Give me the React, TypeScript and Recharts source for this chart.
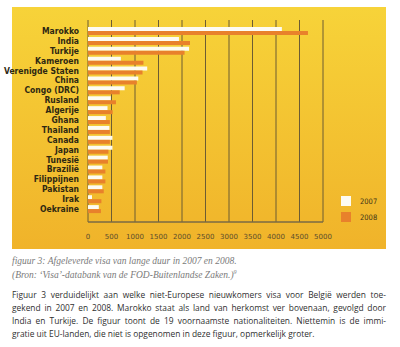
import { Bar, BarChart, CartesianGrid, XAxis, YAxis } from "recharts";

const landen = [
  "Marokko", "India", "Turkije", "Kameroen", "Verenigde Staten", "China", "Congo (DRC)",
  "Rusland", "Algerije", "Ghana", "Thailand", "Canada", "Japan", "Tunesië", "Brazilië",
  "Filippijnen", "Pakistan", "Irak", "Oekraine",
];
const visa2007 = [4125, 1935, 2150, 700, 1260, 1070, 780, 485, 415, 380, 455, 520, 520, 420, 305, 305, 305, 85, 230];
const visa2008 = [4680, 2170, 2055, 1180, 1160, 1040, 675, 595, 525, 465, 465, 465, 435, 425, 370, 370, 335, 285, 275];
const xTicks = [0, 500, 1000, 1500, 2000, 2500, 3000, 3500, 4000, 4500, 5000];

const data = landen.map((land, i) => ({ land, y2007: visa2007[i], y2008: visa2008[i] }));

const WHITE = "#fdfbf2";
const ORANGE = "#e8812b";

function LandTick(props: any) {
  const { x, y, payload } = props;
  return (
    <text
      x={x}
      y={y}
      dy={3}
      textAnchor="end"
      fill="#2e2812"
      fontSize={8.5}
      fontWeight="bold"
      fontFamily="DejaVu Sans Condensed"
    >
      {payload.value}
    </text>
  );
}

function LegendBox() {
  const items = [
    { label: "2007", color: WHITE },
    { label: "2008", color: ORANGE },
  ];
  return (
    <div style={{ position: "absolute", left: 341, top: 193 }}>
      {items.map((it) => (
        <div key={it.label} style={{ display: "flex", alignItems: "center", height: 16 }}>
          <span style={{ width: 10, height: 10, background: it.color, display: "inline-block" }} />
          <span style={{ marginLeft: 9, fontSize: 7.5, color: "#3d3418", fontFamily: "DejaVu Sans Condensed" }}>{it.label}</span>
        </div>
      ))}
    </div>
  );
}

const lineStyle = { whiteSpace: "nowrap" as const, textAlign: "justify" as const, textAlignLast: "justify" as const };

export default function App() {
  return (
    <div style={{ position: "absolute", left: 0, top: 0, width: 400, height: 347, background: "#fff", overflow: "hidden" }}>
      <div
        style={{
          position: "absolute",
          left: 12,
          top: 7,
          width: 374,
          height: 242,
          background: "linear-gradient(#f7d339, #f0b32a)",
        }}
      />
      <div style={{ position: "absolute", left: 0, top: 0 }}>
        <BarChart
          width={400}
          height={250}
          data={data}
          layout="vertical"
          margin={{ top: 20, right: 77, bottom: 8, left: 0 }}
          barSize={4}
          barGap={0}
        >
          <CartesianGrid horizontal={false} stroke="#6d5c33" strokeWidth={1} />
          <XAxis
            type="number"
            domain={[0, 5000]}
            ticks={xTicks}
            tickLine={false}
            axisLine={{ stroke: "#7a6a45", strokeWidth: 1.5 }}
            tick={{ fill: "#5a4c2c", fontSize: 7, fontFamily: "DejaVu Sans" }}
            tickMargin={6}
            height={20}
            interval={0}
          />
          <YAxis
            type="category"
            dataKey="land"
            width={88}
            tickLine={false}
            axisLine={false}
            tickSize={0}
            tickMargin={9}
            padding={{ top: 6, bottom: 8 }}
            interval={0}
            tick={<LandTick />}
          />
          <Bar dataKey="y2007" name="2007" fill={WHITE} isAnimationActive={false} />
          <Bar dataKey="y2008" name="2008" fill={ORANGE} isAnimationActive={false} />
        </BarChart>
      </div>
      <LegendBox />
      <div
        style={{
          position: "absolute",
          left: 12,
          top: 256,
          fontFamily: "Liberation Serif",
          fontStyle: "italic",
          fontSize: 9.5,
          lineHeight: "11px",
          color: "#7a7a7a",
        }}
      >
        <div>figuur 3: Afgeleverde visa van lange duur in 2007 en 2008.</div>
        <div>
          (Bron: ‘Visa’-databank van de FOD-Buitenlandse Zaken.)<sup style={{ fontSize: 6 }}>9</sup>
        </div>
      </div>
      <div
        style={{
          position: "absolute",
          left: 12,
          top: 288,
          width: 374,
          fontFamily: "Open Sans",
          fontSize: 8.4,
          lineHeight: "13px",
          color: "#2f2f2f",
        }}
      >
        <div style={lineStyle}>Figuur 3 verduidelijkt aan welke niet-Europese nieuwkomers visa voor België werden toe-</div>
        <div style={lineStyle}>gekend in 2007 en 2008. Marokko staat als land van herkomst ver bovenaan, gevolgd door</div>
        <div style={lineStyle}>India en Turkije. De figuur toont de 19 voornaamste nationaliteiten. Niettemin is de immi-</div>
        <div style={{ whiteSpace: "nowrap" }}>gratie uit EU-landen, die niet is opgenomen in deze figuur, opmerkelijk groter.</div>
      </div>
    </div>
  );
}
